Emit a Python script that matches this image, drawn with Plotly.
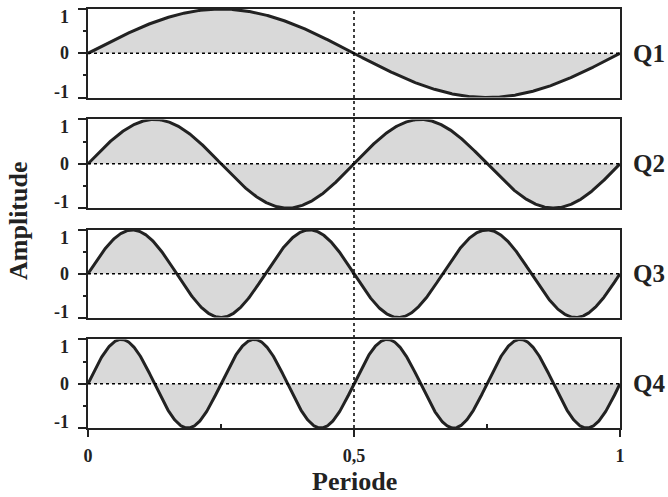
import numpy as np
import plotly.graph_objects as go

# Data: harmonic number of each panel, one full period sampled
harmonics = [1, 2, 3, 4]
panel_labels = ["Q1", "Q2", "Q3", "Q4"]
y_tick_values = [1, 0, -1]
y_tick_labels = ["1", "0", "-1"]
x_tick_values = [0, 0.5, 1]
x_tick_labels = ["0", "0,5", "1"]
x_title = "Periode"
y_title = "Amplitude"

period = np.linspace(0, 1, 801)

W, H = 668, 497
L, R, T, B = 88, 620, 7, 428
plot_h = B - T
panel_px = [(7, 96), (118, 207), (229, 317), (339, 428)]

FONT = "Liberation Serif"
INK = "#222222"

fig = go.Figure()
layout = dict(
    width=W, height=H,
    margin=dict(l=L, r=W - R, t=T, b=H - B, pad=0),
    paper_bgcolor="white", plot_bgcolor="white",
    showlegend=False,
    font=dict(family=FONT, color=INK),
)

annotations = []
shapes = []
for i, (k, lab) in enumerate(zip(harmonics, panel_labels)):
    n = i + 1
    xa = "x" if n == 1 else f"x{n}"
    ya = "y" if n == 1 else f"y{n}"
    amp = np.sin(2 * np.pi * k * period)
    fig.add_trace(go.Scatter(
        x=period, y=amp, xaxis=xa, yaxis=ya, mode="lines",
        line=dict(color=INK, width=3),
        fill="tozeroy", fillcolor="#d9d9d9", hoverinfo="skip",
    ))
    top, bot = panel_px[i]
    d0 = (B - bot) / plot_h
    d1 = (B - top) / plot_h
    layout[f"yaxis{'' if n == 1 else n}"] = dict(
        domain=[d0, d1], range=[-1, 1], anchor=xa,
        tickvals=y_tick_values, ticks="outside", ticklen=8, tickwidth=2,
        tickcolor=INK, showticklabels=False,
        minor=dict(tickvals=[-0.5, 0.5], ticks="outside", ticklen=3,
                   tickwidth=1.5, tickcolor=INK),
        showline=True, linewidth=2, linecolor=INK, mirror=True,
        showgrid=False, zeroline=False, fixedrange=True,
    )
    xdict = dict(
        domain=[0, 1], range=[0, 1], anchor=ya,
        showline=True, linewidth=2, linecolor=INK, mirror=True,
        showgrid=False, zeroline=False, fixedrange=True,
    )
    if n == 4:
        xdict.update(
            tickvals=x_tick_values, ticktext=x_tick_labels,
            ticks="outside", ticklen=7, tickwidth=2, tickcolor=INK,
            tickfont=dict(family=FONT, size=18, color=INK, weight="bold"),
            ticklabelstandoff=3,
            minor=dict(tickvals=[0.25, 0.75], ticks="inside", ticklen=4,
                       tickwidth=1.5, tickcolor=INK),
        )
    else:
        xdict.update(showticklabels=False, ticks="", matches="x4")
    layout[f"xaxis{'' if n == 1 else n}"] = xdict

    # dotted zero line
    shapes.append(dict(type="line", xref=xa, yref=ya, x0=0, x1=1, y0=0, y1=0,
                       line=dict(color="black", width=1.5, dash="dot"), layer="above"))
    # y tick labels
    for v, t in zip(y_tick_values, y_tick_labels):
        shift = -8 if v == 1 else (6 if v == -1 else 0)
        annotations.append(dict(
            text=t, xref="paper", yref=ya, x=0, y=v, xanchor="right", yanchor="middle",
            xshift=-17, yshift=shift, showarrow=False,
            font=dict(family=FONT, size=18, color=INK, weight="bold")))
    # panel label
    annotations.append(dict(
        text=lab, xref="paper", yref=ya, x=1, y=0, xanchor="left", yanchor="middle",
        xshift=11, showarrow=False,
        font=dict(family=FONT, size=25, color=INK, weight="bold")))

# vertical dotted line at half period
shapes.append(dict(type="line", xref="x4", yref="paper", x0=0.5, x1=0.5, y0=0, y1=1,
                   line=dict(color="black", width=1.5, dash="dot"), layer="below"))

annotations.append(dict(
    text=x_title, xref="paper", yref="paper", x=0.5, y=0, yanchor="bottom",
    yshift=-(H - B) + 1, height=26, valign="middle", showarrow=False,
    font=dict(family=FONT, size=26, color=INK, weight="bold")))
annotations.append(dict(
    text=y_title, xref="paper", yref="paper", x=0, y=(B - 220) / plot_h,
    xanchor="center", yanchor="middle", xshift=-(L - 19), textangle=-90, showarrow=False,
    font=dict(family=FONT, size=26, color=INK, weight="bold")))

layout["annotations"] = annotations
layout["shapes"] = shapes
fig.update_layout(**layout)
fig.write_html("out.html")
